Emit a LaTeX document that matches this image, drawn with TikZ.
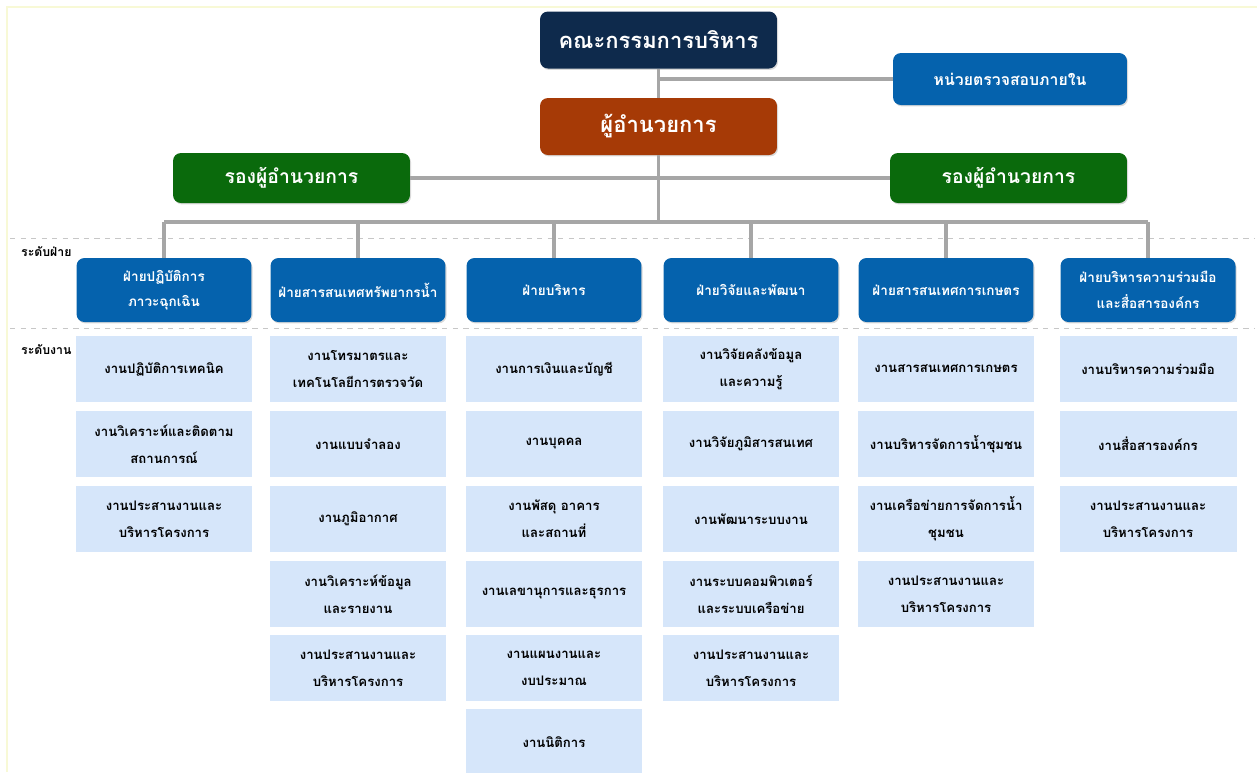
\documentclass[tikz,border=0pt]{standalone}
\usepackage{fontspec}
\setmainfont[Script=Thai]{Loma}
\usetikzlibrary{shadows}
\definecolor{boardnavy}{HTML}{0E2A4C}
\definecolor{dirbrown}{HTML}{A63A06}
\definecolor{depgreen}{HTML}{0A6A0C}
\definecolor{divblue}{HTML}{0562AD}
\definecolor{worklight}{HTML}{D6E6FA}
\definecolor{linkgrey}{HTML}{A6A6A6}
\definecolor{edgeyellow}{HTML}{F8F9D6}
\tikzset{
  topbox/.style={rounded corners=4.5pt, text=white, align=center,
    font=\bfseries\fontsize{12.5}{15}\selectfont,
    minimum width=4.74cm, minimum height=1.14cm,
    drop shadow={opacity=0.3, shadow xshift=0.6pt, shadow yshift=-0.8pt}},
  auditbox/.style={topbox, fill=divblue, font=\bfseries\fontsize{9}{11}\selectfont,
    minimum width=4.68cm, minimum height=1.04cm},
  deputybox/.style={topbox, fill=depgreen, font=\bfseries\fontsize{11}{13}\selectfont,
    minimum height=1.0cm},
  divbox/.style={rounded corners=4.5pt, fill=divblue, text=white, align=center,
    font=\bfseries\fontsize{7.7}{14.5}\selectfont,
    minimum width=3.5cm, minimum height=1.28cm,
    drop shadow={opacity=0.3, shadow xshift=0.6pt, shadow yshift=-0.8pt}},
  workbox/.style={fill=worklight, text=black, align=center,
    font=\bfseries\fontsize{7.5}{15.5}\selectfont,
    minimum width=3.54cm, minimum height=1.32cm},
  levellabel/.style={anchor=west, font=\bfseries\fontsize{7}{9}\selectfont},
  link/.style={draw=linkgrey, line width=1.8pt},
  levelline/.style={draw=black!22, dashed, line width=0.5pt}
}
\begin{document}
\begin{tikzpicture}[x=0.02cm, y=-0.02cm]
  \useasboundingbox (0,0) rectangle (1257,772);
  \draw[edgeyellow, line width=1.5pt] (7,772) -- (7,7) -- (1257,7);
  \draw[levelline] (10,238) -- (1255,238);
  \draw[levelline] (10,328) -- (1255,328);
  \node[levellabel] (lvdiv) at (15,252) {ระดับฝ่าย};
  \node[levellabel] (lvwork) at (15,350) {ระดับงาน};

  \node[topbox, fill=boardnavy] (board) at (658.5,40) {คณะกรรมการบริหาร};
  \node[topbox, fill=dirbrown] (dir) at (658.5,126.5) {ผู้อำนวยการ};
  \node[auditbox] (audit) at (1010,79) {หน่วยตรวจสอบภายใน};
  \node[deputybox] (depL) at (291.5,178) {รองผู้อำนวยการ};
  \node[deputybox] (depR) at (1008.5,178) {รองผู้อำนวยการ};

  \node[divbox] (d1) at (164,290) {ฝ่ายปฏิบัติการ\\ภาวะฉุกเฉิน};
  \node[divbox] (d2) at (358,290) {ฝ่ายสารสนเทศทรัพยากรน้ำ};
  \node[divbox] (d3) at (554,290) {ฝ่ายบริหาร};
  \node[divbox] (d4) at (751,290) {ฝ่ายวิจัยและพัฒนา};
  \node[divbox] (d5) at (946,290) {ฝ่ายสารสนเทศการเกษตร};
  \node[divbox] (d6) at (1148,290) {ฝ่ายบริหารความร่วมมือ\\และสื่อสารองค์กร};

  \node[workbox] (w11) at (164,369) {งานปฏิบัติการเทคนิค};
  \node[workbox] (w12) at (164,444) {งานวิเคราะห์และติดตาม\\สถานการณ์};
  \node[workbox] (w13) at (164,519) {งานประสานงานและ\\บริหารโครงการ};

  \node[workbox] (w21) at (358,369) {งานโทรมาตรและ\\เทคโนโลยีการตรวจวัด};
  \node[workbox] (w22) at (358,444) {งานแบบจำลอง};
  \node[workbox] (w23) at (358,519) {งานภูมิอากาศ};
  \node[workbox] (w24) at (358,594) {งานวิเคราะห์ข้อมูล\\และรายงาน};
  \node[workbox] (w25) at (358,668) {งานประสานงานและ\\บริหารโครงการ};

  \node[workbox] (w31) at (554,369) {งานการเงินและบัญชี};
  \node[workbox] (w32) at (554,444) {งานบุคคล};
  \node[workbox] (w33) at (554,519) {งานพัสดุ อาคาร\\และสถานที่};
  \node[workbox] (w34) at (554,594) {งานเลขานุการและธุรการ};
  \node[workbox] (w35) at (554,668) {งานแผนงานและ\\งบประมาณ};
  \node[workbox] (w36) at (554,742) {งานนิติการ};

  \node[workbox] (w41) at (751,369) {งานวิจัยคลังข้อมูล\\และความรู้};
  \node[workbox] (w42) at (751,444) {งานวิจัยภูมิสารสนเทศ};
  \node[workbox] (w43) at (751,519) {งานพัฒนาระบบงาน};
  \node[workbox] (w44) at (751,594) {งานระบบคอมพิวเตอร์\\และระบบเครือข่าย};
  \node[workbox] (w45) at (751,668) {งานประสานงานและ\\บริหารโครงการ};

  \node[workbox] (w51) at (946,369) {งานสารสนเทศการเกษตร};
  \node[workbox] (w52) at (946,444) {งานบริหารจัดการน้ำชุมชน};
  \node[workbox] (w53) at (946,519) {งานเครือข่ายการจัดการน้ำ\\ชุมชน};
  \node[workbox] (w54) at (946,594) {งานประสานงานและ\\บริหารโครงการ};

  \node[workbox] (w61) at (1148,369) {งานบริหารความร่วมมือ};
  \node[workbox] (w62) at (1148,444) {งานสื่อสารองค์กร};
  \node[workbox] (w63) at (1148,519) {งานประสานงานและ\\บริหารโครงการ};

  \coordinate (ajoin) at (board.south |- audit.west);
  \coordinate (bus) at (658.5,222);
  \coordinate (t1) at (d1.north |- bus);
  \coordinate (t2) at (d2.north |- bus);
  \coordinate (t3) at (d3.north |- bus);
  \coordinate (t4) at (d4.north |- bus);
  \coordinate (t5) at (d5.north |- bus);
  \coordinate (t6) at (d6.north |- bus);
  \begin{scope}[link]
    \draw (board) -- (dir);
    \draw (ajoin) -- (audit);
    \draw (dir) -- (bus);
    \draw (depL) -- (depR);
    \draw (t1) -- (t6);
    \draw (t1) -- (d1);
    \draw (t2) -- (d2);
    \draw (t3) -- (d3);
    \draw (t4) -- (d4);
    \draw (t5) -- (d5);
    \draw (t6) -- (d6);
  \end{scope}
\end{tikzpicture}
\end{document}
